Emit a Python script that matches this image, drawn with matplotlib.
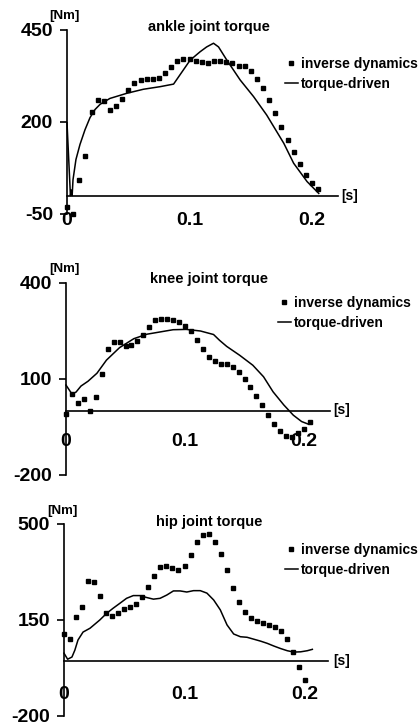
import matplotlib
matplotlib.use("Agg")
import matplotlib.pyplot as plt

plt.rcParams['font.family'] = ['Liberation Sans', 'DejaVu Sans']
plt.rcParams['font.weight'] = 'bold'

W, H = 419, 727

# ---------------- data ----------------
# inverse dynamics (points), sampled every 5 ms
t_id_ankle = [0.000, 0.005, 0.010, 0.015, 0.020, 0.025, 0.030, 0.035, 0.040, 0.045,
              0.050, 0.055, 0.060, 0.065, 0.070, 0.075, 0.080, 0.085, 0.090, 0.095,
              0.100, 0.105, 0.110, 0.115, 0.120, 0.125, 0.130, 0.135, 0.140, 0.145,
              0.150, 0.155, 0.160, 0.165, 0.170, 0.175, 0.180, 0.185, 0.190, 0.195,
              0.200, 0.205]
ankle_id = [-32, -49, 43, 108, 227, 261, 258, 233, 244, 262,
            288, 305, 314, 318, 318, 319, 334, 350, 365, 370,
            370, 366, 364, 361, 365, 365, 362, 359, 352, 352,
            338, 317, 292, 260, 225, 187, 150, 119, 86, 57,
            35, 17]

t_id_knee = t_id_ankle
knee_id = [-9, 53, 26, 38, -1, 45, 116, 195, 215, 215,
           202, 206, 220, 237, 262, 283, 286, 286, 283, 278,
           267, 250, 221, 195, 169, 156, 148, 147, 138, 121,
           100, 74, 46, 18, -13, -40, -62, -79, -82, -70,
           -55, -34]

t_id_hip = [0.000, 0.005, 0.010, 0.015, 0.020, 0.025, 0.030, 0.035, 0.040, 0.045,
            0.050, 0.055, 0.060, 0.065, 0.070, 0.075, 0.080, 0.085, 0.090, 0.095,
            0.100, 0.105, 0.110, 0.115, 0.120, 0.125, 0.130, 0.135, 0.140, 0.145,
            0.150, 0.155, 0.160, 0.165, 0.170, 0.175, 0.180, 0.185, 0.190, 0.195,
            0.200]
hip_id = [100, 82, 160, 196, 293, 287, 238, 174, 165, 174,
          191, 198, 207, 233, 272, 312, 344, 348, 338, 333,
          348, 387, 433, 460, 463, 435, 389, 331, 268, 215,
          178, 157, 145, 138, 133, 126, 110, 81, 34, -21,
          -70]

# torque-driven simulation (lines)
t_td_ankle = [0.0, 0.0028, 0.0035, 0.0042, 0.0049, 0.0073, 0.0106, 0.0147, 0.0188,
              0.0229, 0.027, 0.035, 0.0488, 0.0624, 0.076, 0.087, 0.1005, 0.1087,
              0.114, 0.1196, 0.1237, 0.1305, 0.1414, 0.1523, 0.163, 0.177, 0.185,
              0.196, 0.2055]
ankle_td = [198, 0, 15, 0, 43, 98, 139, 179, 212,
            234, 248, 264, 278, 289, 296, 303, 368, 391,
            404, 414, 404, 368, 314, 269, 219, 142, 88,
            38, 6]

t_td_knee = [0.0, 0.005, 0.0084, 0.0126, 0.0185, 0.026, 0.034, 0.045, 0.057, 0.068,
             0.079, 0.090, 0.101, 0.113, 0.124, 0.129, 0.135, 0.146, 0.157, 0.166,
             0.174, 0.183, 0.191, 0.198, 0.2036]
knee_td = [81, 53, 59, 78, 93, 118, 159, 198, 226, 240,
           247, 254, 255, 250, 239, 221, 202, 174, 143, 107,
           60, 19, -13, -33, -41]

t_td_hip = [0.0, 0.003, 0.0066, 0.009, 0.0116, 0.0158, 0.0216, 0.0297, 0.0353, 0.0408,
            0.0464, 0.0519, 0.0575, 0.0631, 0.0686, 0.0742, 0.0797, 0.0853, 0.0908,
            0.0964, 0.1019, 0.1075, 0.1131, 0.1186, 0.1242, 0.1297, 0.1353, 0.1408,
            0.1464, 0.1519, 0.1575, 0.1631, 0.1686, 0.1742, 0.1797, 0.1853, 0.1908,
            0.1964, 0.2019, 0.2061]
hip_td = [29, 7, 15, 40, 77, 106, 120, 150, 174, 193,
          211, 229, 239, 239, 232, 226, 229, 241, 256,
          256, 252, 257, 257, 248, 223, 187, 132, 99,
          89, 87, 80, 73, 65, 55, 46, 38, 33,
          34, 38, 43]

titles = ["ankle joint torque", "knee joint torque", "hip joint torque"]
legend_labels = ["inverse dynamics", "torque-driven"]
x_ticks = [0, 0.1, 0.2]
x_ticklabels = ["0", "0.1", "0.2"]
y_ticks = [[-50, 200, 450], [-200, 100, 400], [-200, 150, 500]]

# ---------------- layout (pixels) ----------------
panels = [
    dict(left=67, top=30, bottom=214, ylim=(-50, 450), xscale=1225, xmax=0.221,
         tid=t_id_ankle, yid=ankle_id, ttd=t_td_ankle, ytd=ankle_td,
         title_xy=(209, 27), nm_xy=(64, 16), s_xy=(350, 196), leg_xy=(285, 57), xpad=12),
    dict(left=66, top=283, bottom=475, ylim=(-200, 400), xscale=1190, xmax=0.222,
         tid=t_id_knee, yid=knee_id, ttd=t_td_knee, ytd=knee_td,
         title_xy=(209, 279), nm_xy=(64, 269), s_xy=(342, 410), leg_xy=(278, 296), xpad=15.5),
    dict(left=64, top=524, bottom=716, ylim=(-200, 500), xscale=1205, xmax=0.219,
         tid=t_id_hip, yid=hip_id, ttd=t_td_hip, ytd=hip_td,
         title_xy=(209, 522), nm_xy=(62, 511), s_xy=(342, 661), leg_xy=(285, 543), xpad=18),
]

fig = plt.figure(figsize=(W / 100, H / 100), dpi=100)
fig.patch.set_facecolor('white')


def fx(x):
    return x / W


def fy(y):
    return 1 - y / H


for i, p in enumerate(panels):
    width = p['xmax'] * p['xscale']
    ax = fig.add_axes([fx(p['left']), fy(p['bottom']), width / W, (p['bottom'] - p['top']) / H])
    ax.set_xlim(0, p['xmax'])
    ax.set_ylim(*p['ylim'])
    ax.patch.set_alpha(0)
    for s in ['top', 'right']:
        ax.spines[s].set_visible(False)
    ax.spines['bottom'].set_position(('data', 0))
    ax.spines['left'].set_linewidth(1.2)
    ax.spines['bottom'].set_linewidth(1.2)

    ax.plot(p['tid'], p['yid'], linestyle='none', marker='s', markersize=3.5,
            color='black', clip_on=False, label=legend_labels[0])
    ax.plot(p['ttd'], p['ytd'], color='black', linewidth=1.1, clip_on=False,
            label=legend_labels[1])

    ax.set_yticks(y_ticks[i])
    ax.set_yticklabels([str(v) for v in y_ticks[i]], fontsize=14, fontweight='bold')
    ax.tick_params(axis='y', direction='out', length=5, width=1.2, pad=5)
    ax.set_xticks(x_ticks)
    ax.set_xticklabels(x_ticklabels, fontsize=14, fontweight='bold')
    ax.tick_params(axis='x', length=0, pad=p['xpad'])

    fig.text(fx(p['title_xy'][0]), fy(p['title_xy'][1]), titles[i], ha='center', va='center',
             fontsize=10.5, fontweight='bold')
    fig.text(fx(p['nm_xy'][0]), fy(p['nm_xy'][1]), "[Nm]", ha='center', va='center',
             fontsize=9.5, fontweight='bold')
    fig.text(fx(p['s_xy'][0]), fy(p['s_xy'][1]), "[s]", ha='center', va='center',
             fontsize=10, fontweight='bold')

    leg = ax.legend(loc='upper left', bbox_to_anchor=(fx(p['leg_xy'][0]), fy(p['leg_xy'][1])),
                    bbox_transform=fig.transFigure, frameon=False, borderpad=0,
                    borderaxespad=0, handlelength=0.9, handletextpad=0.25,
                    labelspacing=0.4, prop=dict(size=10, weight='bold'))

fig.savefig("out.png", dpi=100, facecolor='white')
